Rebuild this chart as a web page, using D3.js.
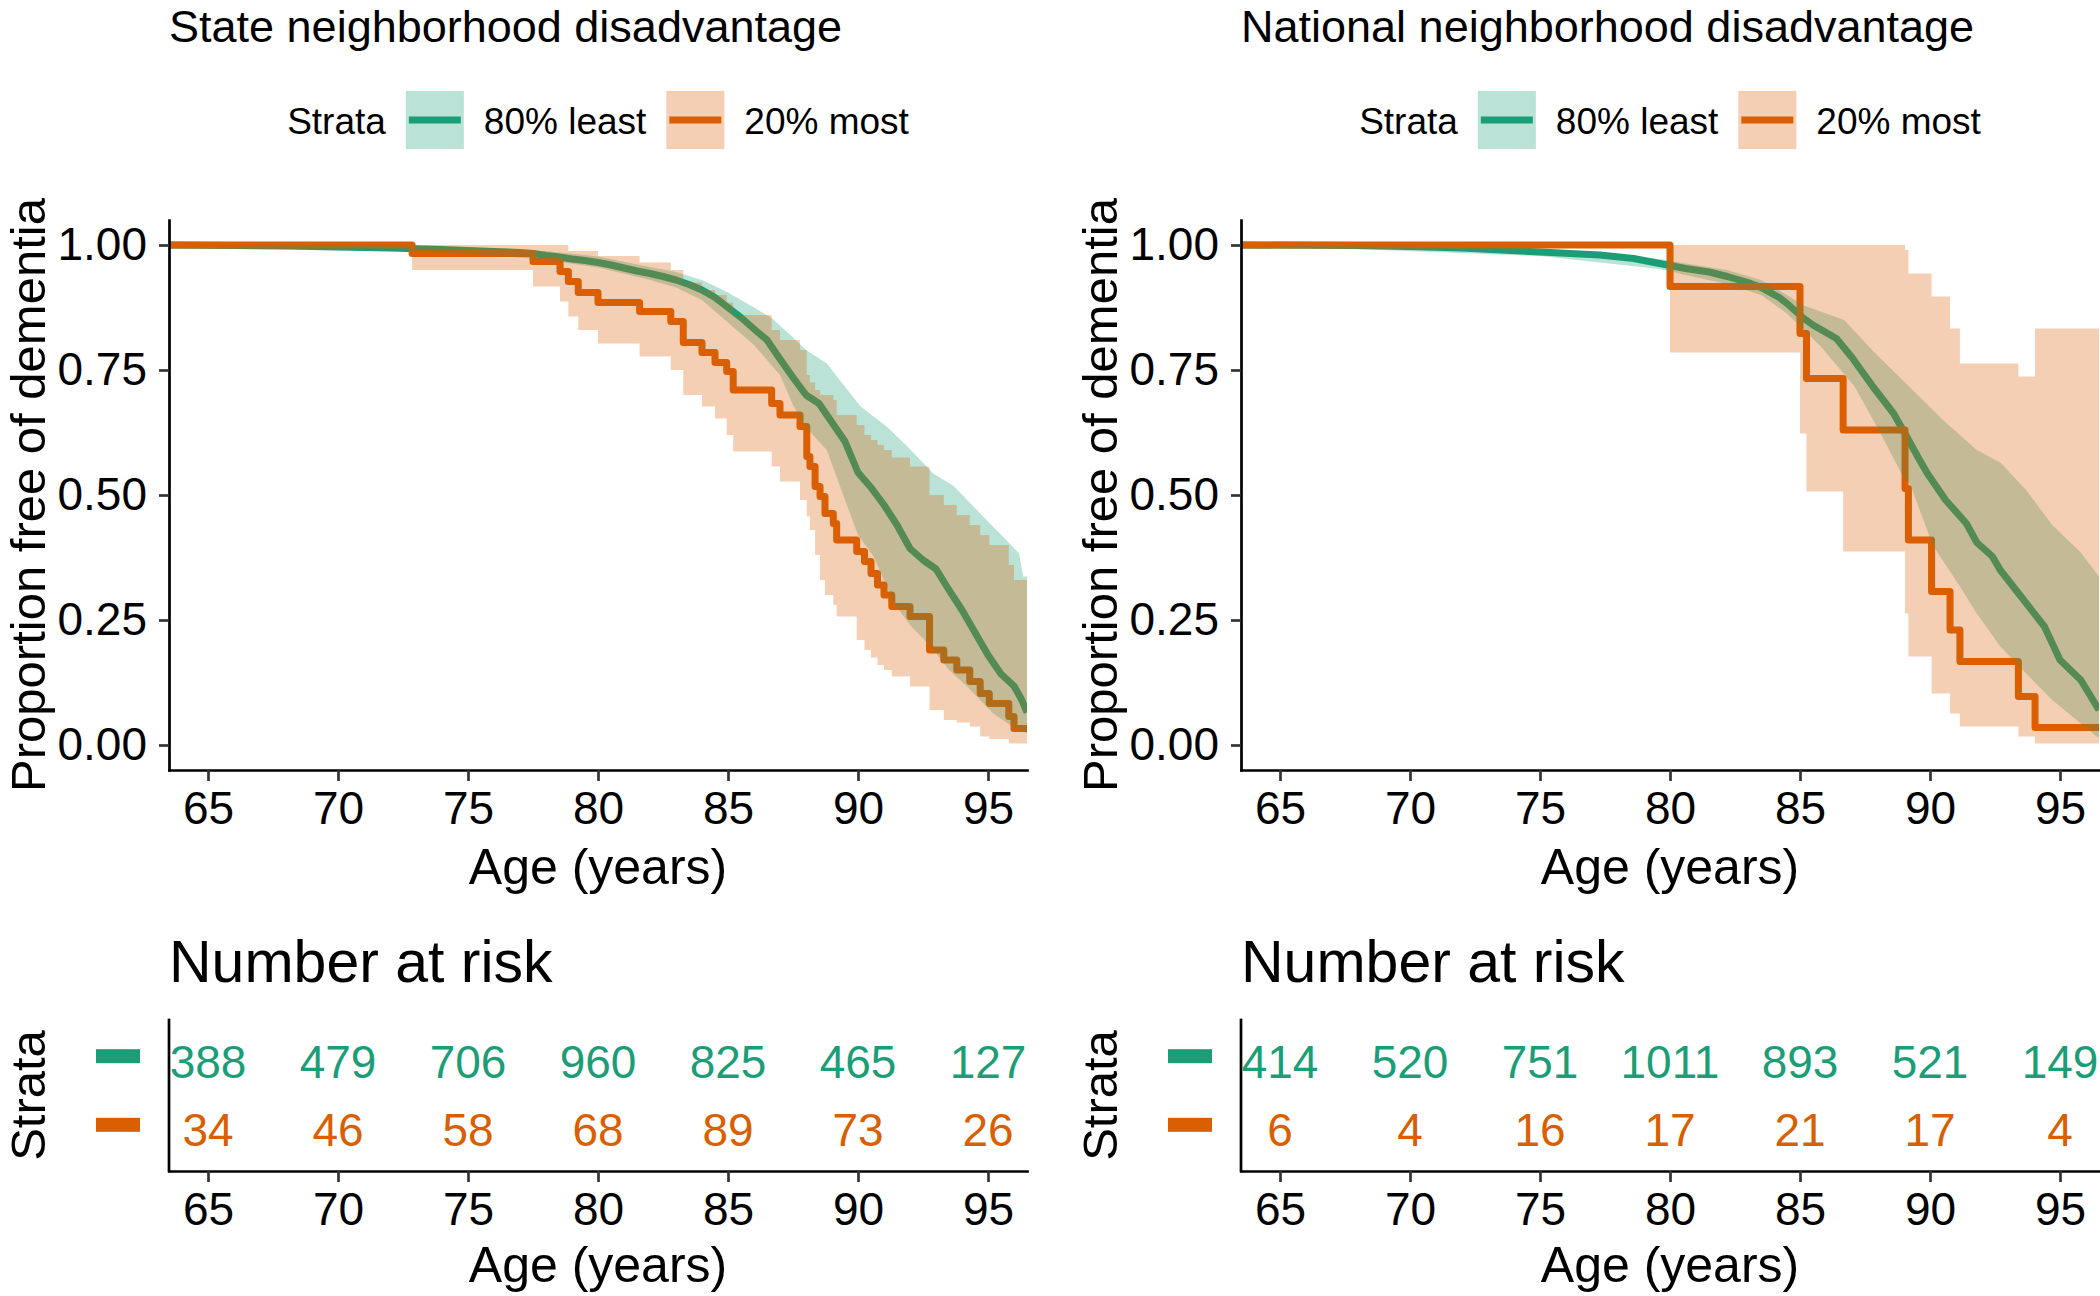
<!DOCTYPE html>
<html><head><meta charset="utf-8">
<script src="https://cdn.jsdelivr.net/npm/d3@7"></script>
<style>body{margin:0;background:#fff;overflow:hidden} svg{display:block}</style>
</head><body><svg id="c" width="2100" height="1296"></svg>
<script>
// ---------------- DATA ----------------
const panelTitles = ["State neighborhood disadvantage", "National neighborhood disadvantage"];
const strata = ["80% least", "20% most"];
const ageTicks = [65, 70, 75, 80, 85, 90, 95];
const survTicks = [0, 0.25, 0.5, 0.75, 1];

// State: 80% least (many events -> [age, value] points)
const stateLeastCurve = [[63.5,1.000],[66,0.999],[68,0.998],[70,0.996],[72,0.994],[74,0.991],[75,0.989],[76,0.987],[77,0.985],[77.5,0.983],[78,0.979],[78.5,0.976],[79,0.972],[79.5,0.969],[80,0.965],[80.5,0.960],[81,0.954],[81.5,0.948],[82,0.943],[82.5,0.937],[83,0.930],[83.5,0.921],[84,0.910],[84.5,0.895],[85,0.875],[85.5,0.855],[86,0.832],[86.5,0.810],[87,0.772],[87.5,0.735],[88,0.700],[88.5,0.683],[89,0.645],[89.5,0.607],[90,0.545],[90.5,0.515],[91,0.480],[91.5,0.440],[92,0.393],[92.5,0.370],[93,0.352],[93.5,0.310],[94,0.270],[94.5,0.225],[95,0.180],[95.5,0.142],[96,0.118],[96.3,0.090],[96.5,0.065]];
const stateLeastUpper = [[63.5,1.000],[70,0.999],[75,0.995],[78,0.988],[80,0.977],[82,0.956],[83,0.946],[84,0.930],[85,0.905],[86,0.875],[86.7,0.853],[87.4,0.820],[88.0,0.790],[88.8,0.763],[89.4,0.723],[90.1,0.677],[91.1,0.637],[91.9,0.597],[92.9,0.543],[93.7,0.517],[94.7,0.463],[95.7,0.410],[96.2,0.383],[96.35,0.337],[96.5,0.337]];
const stateLeastLower = [[63.5,1.000],[70,0.993],[75,0.983],[78,0.970],[80,0.955],[82,0.930],[83,0.915],[84,0.890],[85,0.845],[86,0.800],[87,0.740],[87.5,0.680],[88,0.635],[88.8,0.590],[89.5,0.490],[90,0.420],[90.6,0.377],[91,0.330],[91.4,0.283],[92,0.240],[92.8,0.197],[93.5,0.150],[94.2,0.117],[95.2,0.063],[96,0.035],[96.5,0.023]];

// State: 20% most (step function)
const stateMostTime  = [63.5,72.85,77.5,78.54,78.86,79.24,80.0,81.6,82.8,83.28,84.0,84.5,84.95,85.2,86.68,87.0,87.77,88.03,88.15,88.35,88.54,88.73,89.05,89.18,89.95,90.25,90.5,90.75,91.0,91.3,92.0,92.75,93.3,93.8,94.3,94.7,95.05,95.8,96.0];
const stateMostSurv  = [1.000,0.983,0.967,0.947,0.927,0.905,0.885,0.867,0.847,0.805,0.785,0.765,0.747,0.710,0.683,0.660,0.637,0.577,0.557,0.517,0.497,0.463,0.443,0.410,0.387,0.367,0.343,0.320,0.300,0.277,0.257,0.190,0.170,0.150,0.127,0.103,0.083,0.057,0.033];
const stateMostLower = [1.000,0.950,0.917,0.887,0.857,0.830,0.803,0.777,0.750,0.700,0.677,0.653,0.620,0.587,0.557,0.527,0.490,0.457,0.430,0.380,0.330,0.300,0.280,0.257,0.210,0.190,0.175,0.160,0.150,0.137,0.117,0.070,0.050,0.045,0.037,0.017,0.012,0.003,0.003];
const stateMostUpper = [1.000,1.000,1.000,1.000,0.988,0.988,0.978,0.965,0.950,0.925,0.910,0.900,0.885,0.860,0.830,0.810,0.790,0.740,0.725,0.710,0.700,0.700,0.690,0.660,0.640,0.620,0.610,0.600,0.590,0.575,0.557,0.500,0.480,0.460,0.440,0.420,0.400,0.360,0.330];

// National: 80% least
const nationalLeastCurve = [[63.5,1.000],[68,0.999],[70,0.997],[72,0.994],[73.5,0.990],[75.4,0.985],[77.3,0.980],[78.6,0.973],[79.6,0.963],[80.6,0.953],[81.5,0.946],[82.2,0.937],[83,0.925],[83.5,0.915],[84.2,0.895],[84.5,0.883],[85.1,0.855],[85.5,0.840],[86.4,0.813],[87,0.775],[87.8,0.717],[88.6,0.663],[89.1,0.617],[89.6,0.570],[89.9,0.543],[90.6,0.490],[91.4,0.443],[91.8,0.405],[92.4,0.377],[92.7,0.350],[93.5,0.297],[94.4,0.237],[95.0,0.170],[95.8,0.130],[96.5,0.070]];
const nationalLeastUpper = [[63.5,1.000],[75,0.993],[79.6,0.972],[80.6,0.963],[82.2,0.950],[83.5,0.930],[84.5,0.900],[85.1,0.880],[86.7,0.850],[87.9,0.783],[89.2,0.717],[90.5,0.650],[91.8,0.590],[92.7,0.565],[93.7,0.510],[94.7,0.440],[95.8,0.385],[96.5,0.337]];
const nationalLeastLower = [[63.5,1.000],[75,0.978],[79.6,0.952],[80.6,0.940],[82.2,0.922],[83.5,0.900],[84.5,0.863],[85.8,0.797],[87.1,0.717],[88.1,0.623],[88.9,0.543],[89.25,0.520],[90.1,0.400],[91.15,0.317],[91.8,0.263],[92.7,0.197],[93.7,0.143],[94.7,0.090],[95.8,0.043],[96.4,0.017],[96.5,0.015]];

// National: 20% most
const nationalMostTime  = [63.5,80.0,85.0,85.25,86.66,89.04,89.17,90.06,90.77,91.15,93.4,94.04];
const nationalMostSurv  = [1.000,0.917,0.823,0.733,0.630,0.513,0.410,0.307,0.230,0.167,0.097,0.035];
const nationalMostLower = [1.000,0.785,0.623,0.507,0.387,0.263,0.177,0.103,0.063,0.037,0.017,0.003];
const nationalMostUpper = [1.000,1.000,1.000,1.000,1.000,0.990,0.943,0.897,0.833,0.763,0.737,0.833];

// Number at risk
const stateRiskLeast = [388, 479, 706, 960, 825, 465, 127];
const stateRiskMost  = [34, 46, 58, 68, 89, 73, 26];
const nationalRiskLeast = [414, 520, 751, 1011, 893, 521, 149];
const nationalRiskMost  = [6, 4, 16, 17, 21, 17, 4];

// ---------------- LAYOUT / STYLE ----------------
const FONT = '"Liberation Sans", Arial, Helvetica, sans-serif';
const COLORS = ["#1B9E77", "#D95F02"];
const X_DOMAIN = [63.5, 96.5], Y_DOMAIN = [-0.05, 1.05];
const PLOT_TOP = 220, PLOT_BOTTOM = 770, RISK_TOP = 1020, RISK_BOTTOM = 1171;
const LW = 7, AXW = 2.7;

const panels = [
  {title: panelTitles[0], x0: 169, x1: 1027,
   least: {curve: stateLeastCurve, upper: stateLeastUpper, lower: stateLeastLower},
   most: {time: stateMostTime, surv: stateMostSurv, lower: stateMostLower, upper: stateMostUpper},
   risk: [stateRiskLeast, stateRiskMost]},
  {title: panelTitles[1], x0: 1241, x1: 2099,
   least: {curve: nationalLeastCurve, upper: nationalLeastUpper, lower: nationalLeastLower},
   most: {time: nationalMostTime, surv: nationalMostSurv, lower: nationalMostLower, upper: nationalMostUpper},
   risk: [nationalRiskLeast, nationalRiskMost]}
];

const svg = d3.select("#c");
svg.append("rect").attr("width", 2100).attr("height", 1296).attr("fill", "#fff");
const defs = svg.append("defs");

function txt(sel, s, size) {
  return sel.append("text").text(s).attr("font-family", FONT).attr("font-size", size).attr("fill", "#000");
}
function styleAxis(ga, size) {
  ga.attr("font-family", null).attr("font-size", null);
  ga.select(".domain").attr("stroke", "#000").attr("stroke-width", AXW).attr("stroke-linecap", "square");
  ga.selectAll(".tick line").attr("stroke", "#333").attr("stroke-width", AXW);
  ga.selectAll(".tick text").attr("font-family", FONT).attr("font-size", size).attr("fill", "#000");
}

panels.forEach((p, i) => {
  const x = d3.scaleLinear().domain(X_DOMAIN).range([p.x0, p.x1]);
  const y = d3.scaleLinear().domain(Y_DOMAIN).range([PLOT_BOTTOM, PLOT_TOP]);
  const g = svg.append("g");
  const cx = (p.x0 + p.x1) / 2;

  // Title
  txt(g, p.title, 45).attr("x", p.x0).attr("y", 42);

  // Legend (centered on panel)
  const lg = g.append("g");
  const t0 = txt(lg, "Strata", 37).attr("y", 134);
  const l1 = txt(lg, strata[0], 37).attr("y", 134);
  const l2 = txt(lg, strata[1], 37).attr("y", 134);
  const w0 = t0.node().getComputedTextLength(), w1 = l1.node().getComputedTextLength(), w2 = l2.node().getComputedTextLength();
  const KEY = 58, GAP = 20;
  const total = w0 + GAP + KEY + GAP + w1 + GAP + KEY + GAP + w2;
  let lx = cx - total / 2;
  t0.attr("x", lx); lx += w0 + GAP;
  [[l1, w1, 0], [l2, w2, 1]].forEach(([lab, w, k]) => {
    lg.append("line").attr("x1", lx + 3).attr("x2", lx + KEY - 3).attr("y1", 120).attr("y2", 120)
      .attr("stroke", COLORS[k]).attr("stroke-width", LW);
    lg.append("rect").attr("x", lx).attr("y", 91).attr("width", KEY).attr("height", KEY)
      .attr("fill", COLORS[k]).attr("fill-opacity", 0.3);
    lx += KEY + GAP;
    lab.attr("x", lx); lx += w + GAP;
  });

  // Plot contents
  const clipId = "clip" + i;
  defs.append("clipPath").attr("id", clipId).append("rect")
    .attr("x", p.x0).attr("y", PLOT_TOP - 10).attr("width", p.x1 - p.x0).attr("height", PLOT_BOTTOM - PLOT_TOP + 10);
  const plot = g.append("g").attr("clip-path", `url(#${clipId})`);

  const lineLin = d3.line().x(d => x(d[0])).y(d => y(d[1]));
  const mostRows = p.most.time.map((t, k) => ({t, s: p.most.surv[k], lo: p.most.lower[k], hi: p.most.upper[k]}));
  mostRows.push(Object.assign({}, mostRows[mostRows.length - 1], {t: X_DOMAIN[1]}));
  const lineStep = d3.line().curve(d3.curveStepAfter).x(d => x(d.t)).y(d => y(d.s));
  const areaStep = d3.area().curve(d3.curveStepAfter).x(d => x(d.t)).y0(d => y(d.lo)).y1(d => y(d.hi));

  // lines first
  plot.append("path").attr("d", lineLin(p.least.curve)).attr("fill", "none")
    .attr("stroke", COLORS[0]).attr("stroke-width", LW).attr("stroke-linejoin", "round");
  plot.append("path").attr("d", lineStep(mostRows)).attr("fill", "none")
    .attr("stroke", COLORS[1]).attr("stroke-width", LW).attr("stroke-linejoin", "round");
  // ribbons on top
  const band = p.least.upper.concat(p.least.lower.slice().reverse());
  plot.append("path").attr("d", lineLin(band) + "Z").attr("fill", COLORS[0]).attr("fill-opacity", 0.3);
  plot.append("path").attr("d", areaStep(mostRows)).attr("fill", COLORS[1]).attr("fill-opacity", 0.3);

  // Axes
  const gy = g.append("g").attr("transform", `translate(${p.x0},0)`)
    .call(d3.axisLeft(y).tickValues(survTicks).tickFormat(d3.format(".2f")).tickSize(10).tickPadding(12).tickSizeOuter(0));
  styleAxis(gy, 46);
  const gx = g.append("g").attr("transform", `translate(0,${PLOT_BOTTOM})`)
    .call(d3.axisBottom(x).tickValues(ageTicks).tickSize(11).tickPadding(10).tickSizeOuter(0));
  styleAxis(gx, 46);

  txt(g, "Age (years)", 50).attr("x", cx).attr("y", 884).attr("text-anchor", "middle");
  txt(g, "Proportion free of dementia", 49).attr("text-anchor", "middle")
    .attr("transform", `translate(${p.x0 - 124},${(PLOT_TOP + PLOT_BOTTOM) / 2}) rotate(-90)`);

  // Risk table
  txt(g, "Number at risk", 59).attr("x", p.x0).attr("y", 982);
  const ry = d3.scalePoint().domain(strata).range([RISK_TOP, RISK_BOTTOM]).padding(0.6);
  strata.forEach((s, k) => {
    p.risk[k].forEach((n, j) => {
      txt(g, String(n), 46).attr("x", x(ageTicks[j])).attr("y", ry(s)).attr("dy", "0.36em")
        .attr("text-anchor", "middle").attr("fill", COLORS[k]);
    });
    g.append("rect").attr("x", p.x0 - 73).attr("y", ry(s) - 12).attr("width", 44).attr("height", 14).attr("fill", COLORS[k]);
  });
  const gry = g.append("g").attr("transform", `translate(${p.x0},0)`)
    .call(d3.axisLeft(ry).tickSize(0).tickSizeOuter(0).tickFormat(""));
  styleAxis(gry, 46);
  gry.select(".domain").attr("d", `M0,${RISK_TOP}V${RISK_BOTTOM}`);
  const grx = g.append("g").attr("transform", `translate(0,${RISK_BOTTOM})`)
    .call(d3.axisBottom(x).tickValues(ageTicks).tickSize(11).tickPadding(10).tickSizeOuter(0));
  styleAxis(grx, 46);
  txt(g, "Age (years)", 50).attr("x", cx).attr("y", 1282).attr("text-anchor", "middle");
  txt(g, "Strata", 49).attr("text-anchor", "middle")
    .attr("transform", `translate(${p.x0 - 124},${(RISK_TOP + RISK_BOTTOM) / 2}) rotate(-90)`);
});
</script></body></html>
